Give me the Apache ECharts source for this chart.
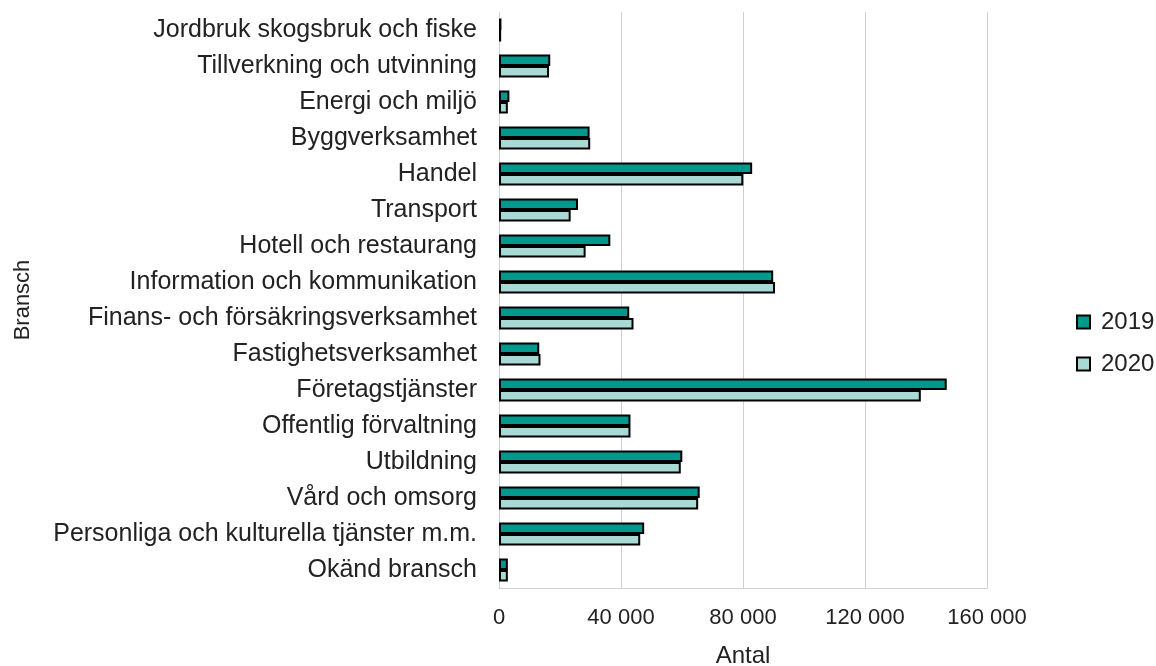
<!DOCTYPE html>
<html>
<head>
<meta charset="utf-8">
<script src="https://cdn.jsdelivr.net/npm/echarts@6/dist/echarts.min.js"></script>
<style>
  html, body { margin: 0; padding: 0; background: #fff; }
  #chart { width: 1156px; height: 666px; }
</style>
</head>
<body>
<div id="chart"></div>
<script>
const categories = [
  'Jordbruk skogsbruk och fiske',
  'Tillverkning och utvinning',
  'Energi och miljö',
  'Byggverksamhet',
  'Handel',
  'Transport',
  'Hotell och restaurang',
  'Information och kommunikation',
  'Finans- och försäkringsverksamhet',
  'Fastighetsverksamhet',
  'Företagstjänster',
  'Offentlig förvaltning',
  'Utbildning',
  'Vård och omsorg',
  'Personliga och kulturella tjänster m.m.',
  'Okänd bransch'
]
const values2019 = [800, 16800, 3400, 29700, 83000, 25900, 36500, 89900, 42700, 13200, 146800, 43100, 60100, 65800, 47600, 2900]
const values2020 = [700, 16400, 2900, 29900, 80100, 23500, 28400, 90500, 44100, 13600, 138300, 43100, 59600, 65300, 46300, 2900]
const xTicks = { min: 0, max: 160000, interval: 40000 }

const fmt = (v) => String(v).replace(/\B(?=(\d{3})+(?!\d))/g, ' ')

const chart = echarts.init(document.getElementById('chart'))
const font = 'Liberation Sans, Arial, sans-serif'

chart.setOption({
  animation: false,
  textStyle: { fontFamily: font },
  grid: {
    left: 499,
    right: 169,
    top: 12,
    bottom: 78,
    containLabel: false,
    outerBoundsMode: 'none'
  },
  legend: {
    orient: 'vertical',
    left: 1071,
    top: 305,
    icon: 'rect',
    itemWidth: 13,
    itemHeight: 13,
    itemGap: 18,
    textStyle: { fontSize: 24, color: '#222', fontFamily: font, padding: [0, 0, 0, 6] },
    data: ['2019', '2020']
  },
  xAxis: {
    type: 'value',
    min: xTicks.min,
    max: xTicks.max,
    interval: xTicks.interval,
    name: 'Antal',
    nameLocation: 'middle',
    nameGap: 56,
    nameTextStyle: { fontSize: 24, color: '#222' },
    axisLine: { show: true, lineStyle: { color: '#d0d0d0' } },
    axisTick: { show: false },
    axisLabel: { fontSize: 22, color: '#222', margin: 19, formatter: fmt },
    splitLine: { show: true, lineStyle: { color: '#d0d0d0', width: 1 } }
  },
  yAxis: {
    type: 'category',
    inverse: true,
    data: categories,
    name: 'Bransch',
    nameLocation: 'middle',
    nameGap: 465,
    nameRotate: 90,
    nameTextStyle: { fontSize: 22, color: '#222' },
    axisLine: { show: false },
    axisTick: { show: false },
    axisLabel: { fontSize: 25, color: '#222', margin: 22 }
  },
  series: [
    {
      name: '2019',
      type: 'bar',
      data: values2019,
      barGap: '0%',
      barCategoryGap: '36%',
      itemStyle: { color: '#00978D', borderColor: '#000', borderWidth: 2 }
    },
    {
      name: '2020',
      type: 'bar',
      data: values2020,
      itemStyle: { color: '#A8D9D4', borderColor: '#000', borderWidth: 2 }
    }
  ]
})
</script>
</body>
</html>
